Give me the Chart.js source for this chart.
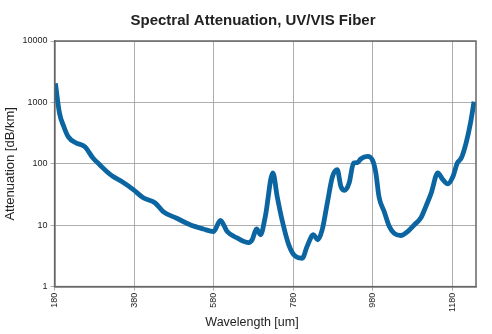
<!DOCTYPE html>
<html>
<head>
<meta charset="utf-8">
<script src="https://cdn.jsdelivr.net/npm/chart.js@4"></script>
<style>
  body { margin: 0; background: #fff; }
  #wrap { width: 492px; height: 334px; }
</style>
</head>
<body>
<div id="wrap"><canvas id="attenuation" width="492" height="334"></canvas></div>
<script>
// wavelength [um] as labelled on the original chart
const wavelengths = [182, 192, 203, 214, 235, 256, 277, 294, 311, 327, 348, 378, 403, 433, 453, 487, 521, 554, 580, 597, 614, 639, 668,
    677, 688, 698, 710, 729, 740, 752, 769, 786, 803, 815, 831, 842, 853, 866, 879, 891, 900, 910, 921, 932, 942, 950, 967, 980,
    988, 996, 1009, 1022, 1034, 1051, 1068, 1085, 1101, 1114, 1127, 1144, 1156, 1169, 1182, 1193, 1203, 1215, 1226, 1235];
const attenuation = [2050, 680, 405, 277, 217, 190, 123, 96, 75, 62, 52, 38, 28, 23, 16.7, 13, 10.2, 8.7, 7.9, 12, 7.9, 6.2, 5.2,
    5.8, 8.7, 7.0, 13.9, 71, 29, 12.3, 4.8, 3.1, 2.9, 4.5, 7.0, 5.8, 8.4, 23, 62, 80, 43, 37, 49, 103, 105, 120, 132, 113,
    71, 29, 16.7, 9.5, 7.4, 6.8, 7.9, 10.2, 13.1, 20.3, 33, 71, 56, 47, 62, 103, 124, 217, 458, 1030];
const xTicks = [180, 380, 580, 780, 980, 1180];
const yTicks = [1, 10, 100, 1000, 10000];
const chartTitle = 'Spectral Attenuation, UV/VIS Fiber';
const xTitle = 'Wavelength [um]';
const yTitle = 'Attenuation [dB/km]';

let points = [];
wavelengths.forEach((w, i) => {
    points.push({ x: w, y: attenuation[i] });
});

var ctx = document.getElementById('attenuation');
var data = {
    datasets: [{
        label: "Attenuation",
        data: points,
        borderColor: '#0b65a1',
        borderWidth: 4.8,
        pointRadius: 0,
        tension: 0.4,
        cubicInterpolationMode: 'monotone',
        fill: false
    }]
};

var options = {
    responsive: false,
    animation: false,
    layout: { padding: { left: 3, right: 16, top: 41, bottom: 20 } },
    plugins: {
        legend: { display: false },
        tooltip: { enabled: false },
        title: { display: false }
    },
    scales: {
        x: {
            type: 'linear',
            min: 180,
            max: 1240,
            afterBuildTicks: axis => { axis.ticks = xTicks.map(v => ({ value: v })); },
            ticks: {
                color: '#222',
                font: { family: 'Liberation Sans', size: 9 },
                minRotation: 90,
                maxRotation: 90,
                padding: 2,
                callback: v => String(v)
            },
            grid: { color: '#999', lineWidth: 0.8, tickLength: 4 },
            border: { color: '#666', width: 1.5 }
        },
        y: {
            type: 'logarithmic',
            min: 1,
            max: 10000,
            afterBuildTicks: axis => { axis.ticks = yTicks.map(v => ({ value: v })); },
            ticks: {
                color: '#222',
                font: { family: 'Liberation Sans', size: 9 },
                padding: 3,
                callback: v => String(v)
            },
            grid: { color: '#999', lineWidth: 0.8, tickLength: 4 },
            border: { color: '#666', width: 1.5 },
            title: {
                display: true,
                text: yTitle,
                color: '#222',
                font: { family: 'Liberation Sans', size: 13 },
                padding: { top: 0, bottom: 1 }
            }
        }
    }
};

// frame round the plot, the title over it and the x title under it
const frame = {
    id: 'frame',
    afterDraw(chart) {
        const a = chart.chartArea;
        const c = chart.ctx;
        c.save();
        c.strokeStyle = '#666';
        c.lineWidth = 1.5;
        c.strokeRect(a.left, a.top, a.right - a.left, a.bottom - a.top);
        c.fillStyle = '#222';
        c.textAlign = 'center';
        c.textBaseline = 'middle';
        c.font = 'bold 15px "Liberation Sans"';
        c.fillText(chartTitle, 253, 21);
        c.font = '12.5px "Liberation Sans"';
        c.fillText(xTitle, 252, 323);
        c.restore();
    }
};

var attenuationChart = new Chart(ctx, {
    type: 'line',
    data: data,
    options: options,
    plugins: [frame]
});
</script>
</body>
</html>
